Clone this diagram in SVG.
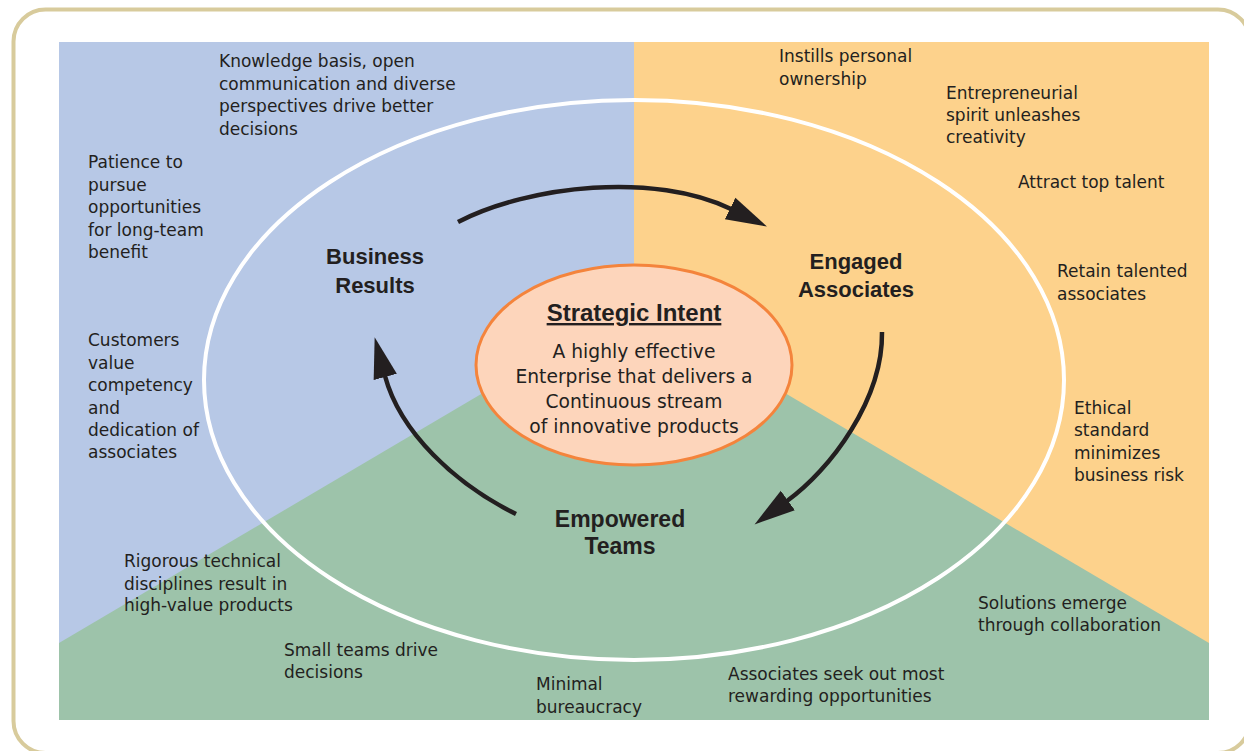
<svg xmlns="http://www.w3.org/2000/svg" width="1244" height="751" viewBox="0 0 1244 751">
  <defs>
    <style>
      .t { font-family: "DejaVu Sans", "Liberation Sans", sans-serif; font-size: 17px; fill: #231f20; }
      .c { font-family: "DejaVu Sans", "Liberation Sans", sans-serif; font-size: 18.7px; fill: #231f20; text-anchor: middle; }
      .h { font-family: "Liberation Sans", Arial, sans-serif; font-size: 22px; font-weight: bold; fill: #231f20; text-anchor: middle; }
      .arrow { fill: none; stroke: #231f20; stroke-width: 4.5; marker-end: url(#head); }
    </style>
    <marker id="head" markerUnits="userSpaceOnUse" markerWidth="44" markerHeight="28" viewBox="0 -14 44 28" refX="1" refY="0" orient="auto">
      <path d="M0,-12 L41,0 L0,12 Z" fill="#231f20"/>
    </marker>
  </defs>

  <rect id="frame" x="13.5" y="9.5" width="1236.5" height="743.5" rx="32" ry="32" fill="#ffffff" stroke="#d8cb9c" stroke-width="4"/>

  <g id="background">
    <rect x="59" y="42" width="575" height="678" fill="#b7c8e6"/>
    <rect x="634" y="42" width="575" height="678" fill="#fdd28c"/>
    <polygon points="634,304 1209,643 1209,720 59,720 59,643" fill="#9dc3aa"/>
  </g>

  <ellipse id="ring" cx="634" cy="380" rx="430" ry="280" fill="none" stroke="#ffffff" stroke-width="4"/>

  <g id="connectors">
    <path class="arrow" d="M458,222 C530,185 655,172 731,209"/>
    <path class="arrow" d="M882,332 C883,400 830,470 787,501"/>
    <path class="arrow" d="M516,514 C455,484 400,432 385,376"/>
  </g>

  <g id="strategic-intent">
    <ellipse cx="634" cy="365" rx="158" ry="100" fill="#fdd5bb" stroke="#f4843c" stroke-width="3"/>
    <text class="h" x="634" y="321" style="font-size:24px; text-decoration: underline;">Strategic Intent</text>
    <text class="c" x="634" y="358">A highly effective</text>
    <text class="c" x="634" y="383">Enterprise that delivers a</text>
    <text class="c" x="634" y="408">Continuous stream</text>
    <text class="c" x="634" y="433">of innovative products</text>
  </g>

  <g id="business-results">
    <text class="h" x="375" y="264">Business</text>
    <text class="h" x="375" y="293">Results</text>
  </g>
  <g id="engaged-associates">
    <text class="h" x="856" y="269">Engaged</text>
    <text class="h" x="856" y="297">Associates</text>
  </g>
  <g id="empowered-teams">
    <text class="h" x="620" y="527" style="font-size:23px">Empowered</text>
    <text class="h" x="620" y="554" style="font-size:23px">Teams</text>
  </g>

  <g id="note-knowledge">
    <text class="t" x="219" y="67">Knowledge basis, open</text>
    <text class="t" x="219" y="89.5">communication and diverse</text>
    <text class="t" x="219" y="112">perspectives drive better</text>
    <text class="t" x="219" y="134.5">decisions</text>
  </g>
  <g id="note-patience">
    <text class="t" x="88" y="168">Patience to</text>
    <text class="t" x="88" y="190.5">pursue</text>
    <text class="t" x="88" y="213">opportunities</text>
    <text class="t" x="88" y="235.5">for long-team</text>
    <text class="t" x="88" y="258">benefit</text>
  </g>
  <g id="note-customers">
    <text class="t" x="88" y="346">Customers</text>
    <text class="t" x="88" y="368.5">value</text>
    <text class="t" x="88" y="391">competency</text>
    <text class="t" x="88" y="413.5">and</text>
    <text class="t" x="88" y="436">dedication of</text>
    <text class="t" x="88" y="458">associates</text>
  </g>
  <g id="note-rigorous">
    <text class="t" x="124" y="567">Rigorous technical</text>
    <text class="t" x="124" y="589.5">disciplines result in</text>
    <text class="t" x="124" y="611">high-value products</text>
  </g>
  <g id="note-small-teams">
    <text class="t" x="284" y="656">Small teams drive</text>
    <text class="t" x="284" y="678">decisions</text>
  </g>
  <g id="note-minimal">
    <text class="t" x="536" y="690">Minimal</text>
    <text class="t" x="536" y="713">bureaucracy</text>
  </g>
  <g id="note-associates-seek">
    <text class="t" x="728" y="680">Associates seek out most</text>
    <text class="t" x="728" y="702">rewarding opportunities</text>
  </g>
  <g id="note-solutions">
    <text class="t" x="978" y="609">Solutions emerge</text>
    <text class="t" x="978" y="631">through collaboration</text>
  </g>
  <g id="note-ethical">
    <text class="t" x="1074" y="414">Ethical</text>
    <text class="t" x="1074" y="436">standard</text>
    <text class="t" x="1074" y="458.5">minimizes</text>
    <text class="t" x="1074" y="481">business risk</text>
  </g>
  <g id="note-retain">
    <text class="t" x="1057" y="277">Retain talented</text>
    <text class="t" x="1057" y="300">associates</text>
  </g>
  <g id="note-attract">
    <text class="t" x="1018" y="188">Attract top talent</text>
  </g>
  <g id="note-entrepreneurial">
    <text class="t" x="946" y="99">Entrepreneurial</text>
    <text class="t" x="946" y="121">spirit unleashes</text>
    <text class="t" x="946" y="143">creativity</text>
  </g>
  <g id="note-instills">
    <text class="t" x="779" y="62">Instills personal</text>
    <text class="t" x="779" y="85">ownership</text>
  </g>
</svg>
